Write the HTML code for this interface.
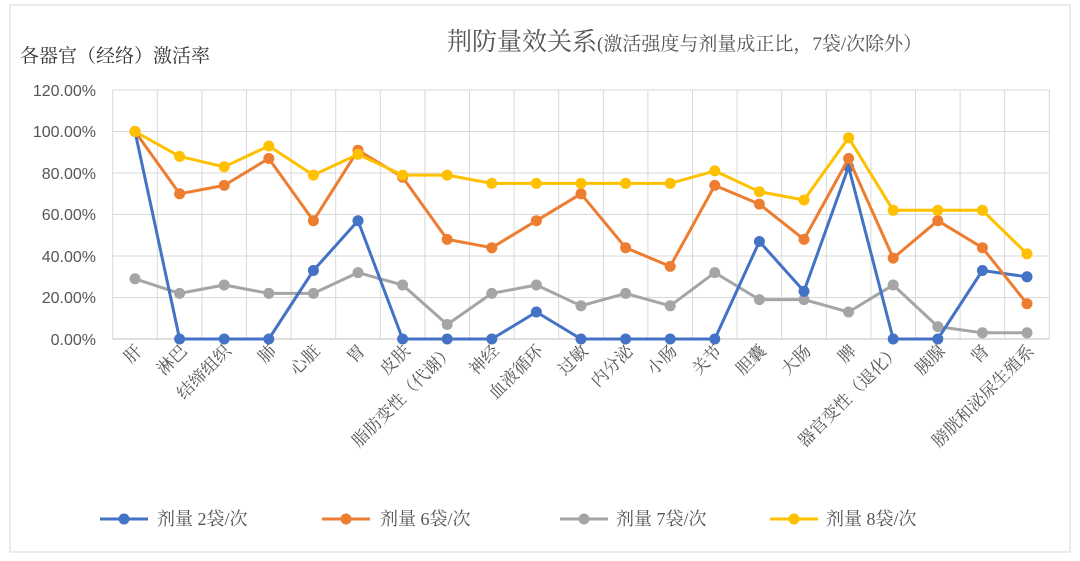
<!DOCTYPE html>
<html><head><meta charset="utf-8"><style>
html,body{margin:0;padding:0;background:#fff;}
svg{display:block;font-family:"Liberation Sans","Noto Sans CJK SC",sans-serif;}
.cj{font-family:"Liberation Serif","Noto Serif CJK SC",serif;}
</style></head><body>
<svg width="1080" height="561" viewBox="0 0 1080 561" xmlns="http://www.w3.org/2000/svg">
<defs>
<marker id="mb" markerUnits="userSpaceOnUse" markerWidth="14" markerHeight="14" refX="7" refY="7"><circle cx="7" cy="7" r="5.5" fill="#4472C4"/></marker>
<marker id="mo" markerUnits="userSpaceOnUse" markerWidth="14" markerHeight="14" refX="7" refY="7"><circle cx="7" cy="7" r="5.5" fill="#ED7D31"/></marker>
<marker id="mg" markerUnits="userSpaceOnUse" markerWidth="14" markerHeight="14" refX="7" refY="7"><circle cx="7" cy="7" r="5.5" fill="#A5A5A5"/></marker>
<marker id="my" markerUnits="userSpaceOnUse" markerWidth="14" markerHeight="14" refX="7" refY="7"><circle cx="7" cy="7" r="5.5" fill="#FFC000"/></marker>
</defs>
<rect x="10" y="5" width="1060" height="547" fill="#fff" stroke="#d9d9d9"/>
<text class="cj" x="447" y="50" font-size="25" fill="#555">荆防量效关系<tspan font-size="19">(激活强度与剂量成正比，7袋/次除外）</tspan></text>
<text class="cj" x="20" y="62" font-size="19" fill="#333">各器官（经络）激活率</text>
<g stroke="#d9d9d9" stroke-width="1">
<line x1="112.7" y1="90" x2="1049.3" y2="90"/><line x1="112.7" y1="131.5" x2="1049.3" y2="131.5"/><line x1="112.7" y1="173" x2="1049.3" y2="173"/><line x1="112.7" y1="214.5" x2="1049.3" y2="214.5"/><line x1="112.7" y1="256" x2="1049.3" y2="256"/><line x1="112.7" y1="297.5" x2="1049.3" y2="297.5"/>
<line x1="112.7" y1="90" x2="112.7" y2="339"/><line x1="157.3" y1="90" x2="157.3" y2="339"/><line x1="201.9" y1="90" x2="201.9" y2="339"/><line x1="246.5" y1="90" x2="246.5" y2="339"/><line x1="291.1" y1="90" x2="291.1" y2="339"/><line x1="335.7" y1="90" x2="335.7" y2="339"/><line x1="380.3" y1="90" x2="380.3" y2="339"/><line x1="424.9" y1="90" x2="424.9" y2="339"/><line x1="469.5" y1="90" x2="469.5" y2="339"/><line x1="514.1" y1="90" x2="514.1" y2="339"/><line x1="558.7" y1="90" x2="558.7" y2="339"/><line x1="603.3" y1="90" x2="603.3" y2="339"/><line x1="647.9" y1="90" x2="647.9" y2="339"/><line x1="692.5" y1="90" x2="692.5" y2="339"/><line x1="737.1" y1="90" x2="737.1" y2="339"/><line x1="781.7" y1="90" x2="781.7" y2="339"/><line x1="826.3" y1="90" x2="826.3" y2="339"/><line x1="870.9" y1="90" x2="870.9" y2="339"/><line x1="915.5" y1="90" x2="915.5" y2="339"/><line x1="960.1" y1="90" x2="960.1" y2="339"/><line x1="1004.7" y1="90" x2="1004.7" y2="339"/><line x1="1049.3" y1="90" x2="1049.3" y2="339"/>
</g>
<line x1="112.7" y1="339" x2="1049.3" y2="339" stroke="#bfbfbf"/>
<g font-size="16" fill="#555" text-anchor="end">
<text x="96" y="96">120.00%</text><text x="96" y="137">100.00%</text><text x="96" y="179">80.00%</text><text x="96" y="220">60.00%</text><text x="96" y="262">40.00%</text><text x="96" y="303">20.00%</text><text x="96" y="345">0.00%</text>
</g>
<g fill="none" stroke-width="3" stroke-linejoin="round">
<polyline stroke="#A5A5A5" marker-start="url(#mg)" marker-mid="url(#mg)" marker-end="url(#mg)" points="135,278.8 179.6,293.4 224.2,285 268.8,293.4 313.4,293.4 358,272.6 402.6,285 447.2,324.5 491.8,293.4 536.4,285 581,305.8 625.6,293.4 670.2,305.8 714.8,272.6 759.4,299.6 804,299.6 848.6,312 893.2,285 937.8,326.6 982.4,332.8 1027,332.8"/>
<polyline stroke="#4472C4" marker-start="url(#mb)" marker-mid="url(#mb)" marker-end="url(#mb)" points="135,131.5 179.6,339 224.2,339 268.8,339 313.4,270.5 358,220.7 402.6,339 447.2,339 491.8,339 536.4,312 581,339 625.6,339 670.2,339 714.8,339 759.4,241.5 804,291.3 848.6,166.8 893.2,339 937.8,339 982.4,270.5 1027,276.8"/>
<polyline stroke="#ED7D31" marker-start="url(#mo)" marker-mid="url(#mo)" marker-end="url(#mo)" points="135,131.5 179.6,193.8 224.2,185.4 268.8,158.5 313.4,220.7 358,150.2 402.6,177.2 447.2,239.4 491.8,247.7 536.4,220.7 581,193.8 625.6,247.7 670.2,266.4 714.8,185.4 759.4,204.1 804,239.4 848.6,158.5 893.2,258.1 937.8,220.7 982.4,247.7 1027,303.7"/>
<polyline stroke="#FFC000" marker-start="url(#my)" marker-mid="url(#my)" marker-end="url(#my)" points="135,131.5 179.6,156.4 224.2,166.8 268.8,146 313.4,175.1 358,154.3 402.6,175.1 447.2,175.1 491.8,183.4 536.4,183.4 581,183.4 625.6,183.4 670.2,183.4 714.8,170.9 759.4,191.7 804,200 848.6,137.7 893.2,210.3 937.8,210.3 982.4,210.3 1027,253.9"/>
</g>
<g class="cj" font-size="17" fill="#555" text-anchor="end">
<text transform="translate(143,352) rotate(-45)">肝</text>
<text transform="translate(188,352) rotate(-45)">淋巴</text>
<text transform="translate(232,352) rotate(-45)">结缔组织</text>
<text transform="translate(277,352) rotate(-45)">肺</text>
<text transform="translate(321,352) rotate(-45)">心脏</text>
<text transform="translate(366,352) rotate(-45)">胃</text>
<text transform="translate(411,352) rotate(-45)">皮肤</text>
<text transform="translate(455,352) rotate(-45)">脂肪变性（代谢）</text>
<text transform="translate(500,352) rotate(-45)">神经</text>
<text transform="translate(544,352) rotate(-45)">血液循环</text>
<text transform="translate(589,352) rotate(-45)">过敏</text>
<text transform="translate(634,352) rotate(-45)">内分泌</text>
<text transform="translate(678,352) rotate(-45)">小肠</text>
<text transform="translate(723,352) rotate(-45)">关节</text>
<text transform="translate(767,352) rotate(-45)">胆囊</text>
<text transform="translate(812,352) rotate(-45)">大肠</text>
<text transform="translate(857,352) rotate(-45)">脾</text>
<text transform="translate(901,352) rotate(-45)">器官变性（退化）</text>
<text transform="translate(946,352) rotate(-45)">胰腺</text>
<text transform="translate(990,352) rotate(-45)">肾</text>
<text transform="translate(1035,352) rotate(-45)">膀胱和泌尿生殖系</text>
</g>
<g stroke-width="3">
<line x1="100" y1="519" x2="148" y2="519" stroke="#4472C4"/><circle cx="124" cy="519" r="5.5" fill="#4472C4"/>
<line x1="322" y1="519" x2="370" y2="519" stroke="#ED7D31"/><circle cx="346" cy="519" r="5.5" fill="#ED7D31"/>
<line x1="560" y1="519" x2="608" y2="519" stroke="#A5A5A5"/><circle cx="584" cy="519" r="5.5" fill="#A5A5A5"/>
<line x1="770" y1="519" x2="818" y2="519" stroke="#FFC000"/><circle cx="794" cy="519" r="5.5" fill="#FFC000"/>
</g>
<g class="cj" font-size="18" fill="#555">
<text x="157" y="525">剂量 2袋/次</text>
<text x="380" y="525">剂量 6袋/次</text>
<text x="616" y="525">剂量 7袋/次</text>
<text x="826" y="525">剂量 8袋/次</text>
</g>
</svg>
</body></html>
